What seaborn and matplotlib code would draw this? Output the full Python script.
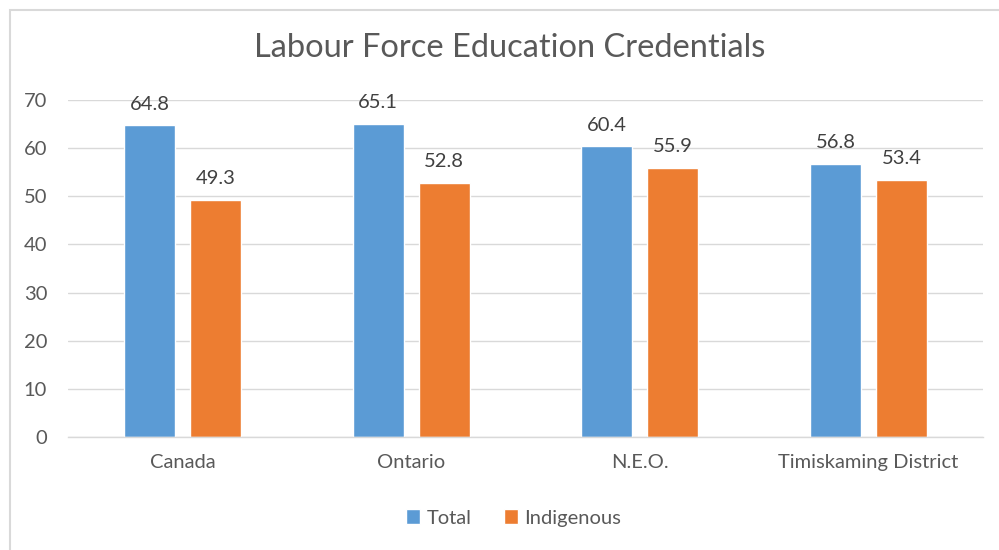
import pandas as pd
import matplotlib.pyplot as plt
import seaborn as sns
from matplotlib.patches import Rectangle

# Data
regions = ['Canada', 'Ontario', 'N.E.O.', 'Timiskaming District']
total = [64.8, 65.1, 60.4, 56.8]
indigenous = [49.3, 52.8, 55.9, 53.4]

df = pd.DataFrame({
    'region': regions * 2,
    'value': total + indigenous,
    'group': ['Total'] * len(regions) + ['Indigenous'] * len(regions),
})

sns.set_style('white')
plt.rcParams['font.family'] = ['Lato', 'DejaVu Sans']

fig = plt.figure(figsize=(9.99, 5.5), dpi=100)
ax = fig.add_axes([68 / 999, 1 - 437 / 550, 915 / 999, 337 / 550])

palette = {'Total': '#5B9BD5', 'Indigenous': '#ED7D31'}
sns.barplot(data=df, x='region', y='value', hue='group', palette=palette,
            width=0.577, gap=0.227, ax=ax, saturation=1, legend=True)

# labels above bars
for cont in ax.containers:
    ax.bar_label(cont, fmt='%.1f', padding=9, fontsize=14.5, color='#404040')

ax.set_ylim(0, 70)
ax.set_yticks(range(0, 71, 10))
ax.set_xlim(-0.5, 3.5)
ax.yaxis.grid(True, color='#D9D9D9', linewidth=1)
ax.set_axisbelow(True)
for s in ['top', 'right', 'left']:
    ax.spines[s].set_visible(False)
ax.spines['bottom'].set_color('#D9D9D9')
ax.spines['bottom'].set_linewidth(1)
ax.tick_params(axis='both', length=0, labelsize=14.5, labelcolor='#595959')
ax.tick_params(axis='x', pad=12)
ax.tick_params(axis='y', pad=15)
ax.set_xlabel('')
ax.set_ylabel('')

fig.text(0.51, 1 - 48 / 550, 'Labour Force Education Credentials', ha='center', va='center',
         fontsize=23.5, color='#595959')

handles, labels = ax.get_legend_handles_labels()
ax.legend_.remove()
fig.legend(handles, labels, loc='center', bbox_to_anchor=(0.514, 1 - 518 / 550), ncol=2,
           frameon=False, fontsize=14.5, handlelength=0.7, handleheight=0.7,
           handletextpad=0.3, columnspacing=1.6, labelcolor='#595959')

# chart border (cut off on right/bottom like the reference)
fig.patches.append(Rectangle((10 / 999, -0.1), 1.2, 1 - 10 / 550 + 0.1, transform=fig.transFigure,
                             fill=False, edgecolor='#D9D9D9', linewidth=1.5))

plt.savefig('out.png', dpi=100)
